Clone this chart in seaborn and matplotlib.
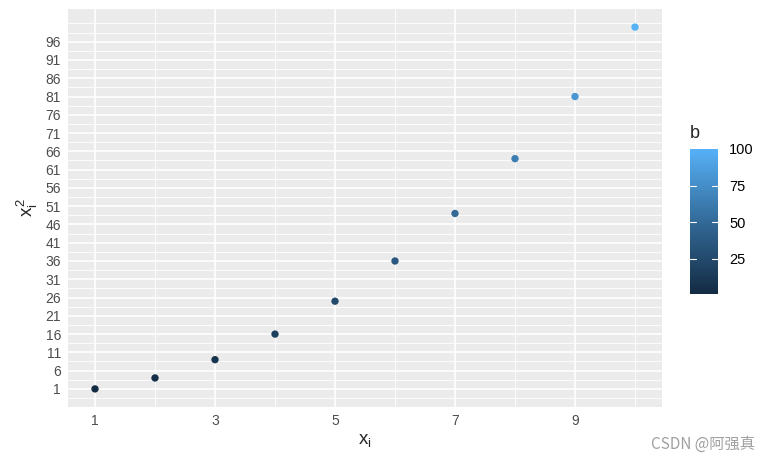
import numpy as np
import pandas as pd
import matplotlib
import matplotlib.pyplot as plt
import seaborn as sns
from matplotlib.colors import LinearSegmentedColormap, Normalize
from matplotlib.cm import ScalarMappable

# данные
x_vals = [1, 2, 3, 4, 5, 6, 7, 8, 9, 10]
y_vals = [1, 4, 9, 16, 25, 36, 49, 64, 81, 100]
b_vals = [1, 4, 9, 16, 25, 36, 49, 64, 81, 100]
x_ticks = [1, 3, 5, 7, 9]
y_ticks = list(range(1, 100, 5))
cbar_ticks = [25, 50, 75, 100]

df = pd.DataFrame({'x': x_vals, 'y': y_vals, 'b': b_vals})

sns.set_style('white')
plt.rcParams['font.family'] = ['Liberation Sans', 'Noto Sans CJK SC', 'DejaVu Sans']
plt.rcParams['mathtext.fontset'] = 'custom'
plt.rcParams['mathtext.rm'] = 'Liberation Sans'
plt.rcParams['mathtext.it'] = 'Liberation Sans'

# градиент как в ggplot (по умолчанию)
cmap = LinearSegmentedColormap.from_list('gg', ['#132B43', '#336A98', '#56B1F7'])
norm = Normalize(vmin=min(b_vals), vmax=max(b_vals))

fig = plt.figure(figsize=(7.7, 4.63), dpi=100)
ax = fig.add_axes([68 / 770, 1 - 407 / 463, 594 / 770, 398 / 463])
ax.set_facecolor('#EBEBEB')

sns.scatterplot(data=df, x='x', y='y', hue='b', hue_norm=norm, palette=cmap,
                s=28, linewidth=0, legend=False, ax=ax, zorder=3)

ax.set_xlim(0.55, 10.45)
ax.set_ylim(-3.95, 104.95)
ax.set_xticks(x_ticks)
ax.set_yticks(y_ticks)

# сетка: основная и вспомогательная
for v in [2, 4, 6, 8, 10]:
    ax.axvline(v, color='white', lw=0.6, zorder=1)
for v in x_ticks:
    ax.axvline(v, color='white', lw=1.2, zorder=1)
for v in [-1.5] + [t + 2.5 for t in y_ticks]:
    ax.axhline(v, color='white', lw=0.6, zorder=1)
ax.axhline(101, color='white', lw=0.6, zorder=1)
for v in y_ticks:
    ax.axhline(v, color='white', lw=1.2, zorder=1)

for s in ax.spines.values():
    s.set_visible(False)
ax.tick_params(axis='both', length=3, width=0.8, color='#333333',
               labelsize=10, labelcolor='#4D4D4D', pad=2)
ax.set_xlabel('$x_i$', fontsize=13.5, labelpad=3)
ax.set_ylabel('$x_i^2$', fontsize=13.5, labelpad=4)

# цветовая шкала
cax = fig.add_axes([690 / 770, 1 - 294 / 463, 28 / 770, 145 / 463])
sm = ScalarMappable(norm=norm, cmap=cmap)
cb = fig.colorbar(sm, cax=cax, ticks=cbar_ticks)
cb.outline.set_visible(False)
cax.tick_params(length=0, labelsize=10.5, labelcolor='black', pad=8)
for t in cbar_ticks[:-1]:
    cax.plot([0, 0.2], [t, t], color='white', lw=0.8, transform=cax.get_yaxis_transform())
    cax.plot([0.8, 1], [t, t], color='white', lw=0.8, transform=cax.get_yaxis_transform())
fig.text(690 / 770, 1 - 133 / 463, 'b', fontsize=13, va='center', ha='left')

# водяной знак
fig.text(755 / 770, 1 - 444 / 463, 'CSDN @阿强真', fontsize=11, color='#A0A0A0',
         ha='right', va='center', family=['Noto Sans CJK SC', 'DejaVu Sans'])

fig.savefig('out.png', dpi=100)
